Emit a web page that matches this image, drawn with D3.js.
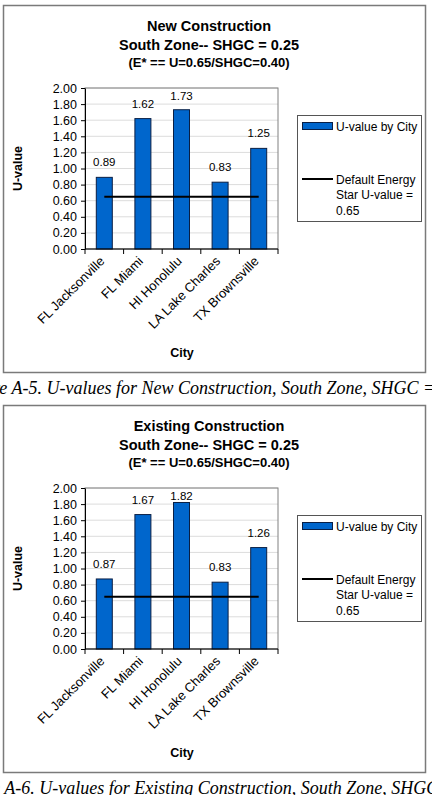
<!DOCTYPE html>
<html>
<head>
<meta charset="utf-8">
<script src="https://cdn.jsdelivr.net/npm/d3@7"></script>
<style>
  body { margin: 0; background: #fff; }
  svg { display: block; }
</style>
</head>
<body>
<svg id="chart"></svg>
<script>
// data
const cities = ["FL Jacksonville", "FL Miami", "HI Honolulu", "LA Lake Charles", "TX Brownsville"];
const newValues = [0.89, 1.62, 1.73, 0.83, 1.25];
const existingValues = [0.87, 1.67, 1.82, 0.83, 1.26];
const defaultU = 0.65;
const yTicks = [0, 0.2, 0.4, 0.6, 0.8, 1.0, 1.2, 1.4, 1.6, 1.8, 2.0];
const titlesNew = ["New Construction", "South Zone-- SHGC = 0.25", "(E* == U=0.65/SHGC=0.40)"];
const titlesExisting = ["Existing Construction", "South Zone-- SHGC = 0.25", "(E* == U=0.65/SHGC=0.40)"];
const captionNew = ["Figure ", "A-5. U-values for New Construction, South Zone, SHGC = 0.25"];
const captionExisting = ["Figure ", "A-6. U-values for Existing Construction, South Zone, SHGC = 0.25"];

const W = 432, H = 795;
const sans = "'Liberation Sans', Arial, sans-serif";
const serif = "italic 18px 'Liberation Serif', 'Times New Roman', serif";

const svg = d3.select("#chart").attr("width", W).attr("height", H);

function drawChart(top, titles, values, caption, cutChars) {
  const g = svg.append("g").attr("transform", `translate(0,${top})`);

  // outer frame
  g.append("rect")
    .attr("x", 3.5).attr("y", 5.5)
    .attr("width", 422).attr("height", 367)
    .attr("fill", "#fff").attr("stroke", "#7a7a7a").attr("stroke-width", 1.5);

  // titles
  const tsize = [14.5, 14.5, 13];
  const ty = [31, 50, 67];
  titles.forEach((t, i) => {
    g.append("text")
      .attr("x", 209).attr("y", ty[i])
      .attr("text-anchor", "middle")
      .style("font", `bold ${tsize[i]}px ${sans}`)
      .text(t);
  });

  const plot = {left: 85, right: 278, top: 88, bottom: 249};

  const x = d3.scaleBand().domain(cities).range([plot.left, plot.right]);
  const cx = c => x(c) + x.bandwidth() / 2;
  const barW = 16;

  const y = d3.scaleLinear().domain([0, 2]).range([plot.bottom, plot.top]);

  // gridlines
  g.append("g").selectAll("line")
    .data(yTicks.slice(1))
    .join("line")
    .attr("x1", plot.left).attr("x2", plot.right)
    .attr("y1", d => y(d)).attr("y2", d => y(d))
    .attr("stroke", "#dcdcdc").attr("stroke-width", 1);

  // plot border
  g.append("rect")
    .attr("x", plot.left).attr("y", plot.top)
    .attr("width", plot.right - plot.left).attr("height", plot.bottom - plot.top)
    .attr("fill", "none").attr("stroke", "#808080").attr("stroke-width", 1);

  // bars
  g.append("g").selectAll("rect")
    .data(values)
    .join("rect")
    .attr("x", (d, i) => cx(cities[i]) - barW / 2)
    .attr("y", d => y(d))
    .attr("width", barW)
    .attr("height", d => y(0) - y(d))
    .attr("fill", "#0066cc")
    .attr("stroke", "#0a1f44").attr("stroke-width", 1);

  // value labels (kept inside the plot like Excel does)
  g.append("g").selectAll("text")
    .data(values)
    .join("text")
    .attr("x", (d, i) => cx(cities[i]))
    .attr("y", d => Math.max(y(d) - 11, plot.top + 11.5))
    .attr("text-anchor", "middle")
    .style("font", `11.5px ${sans}`)
    .text(d => d.toFixed(2));

  // default energy star line
  g.append("line")
    .attr("x1", cx(cities[0]))
    .attr("x2", cx(cities[cities.length - 1]))
    .attr("y1", y(defaultU)).attr("y2", y(defaultU))
    .attr("stroke", "#000").attr("stroke-width", 2);

  // y axis
  const yAxis = d3.axisLeft(y).tickValues(yTicks).tickSize(4).tickSizeOuter(0)
    .tickFormat(d3.format(".2f"));
  const ya = g.append("g").attr("transform", `translate(${plot.left},0)`).call(yAxis);
  ya.select(".domain").attr("stroke", "#000");
  ya.selectAll(".tick line").attr("stroke", "#000");
  ya.selectAll(".tick text").attr("x", -8).style("font", `12.5px ${sans}`).attr("fill", "#000");

  // x axis: ticks between categories
  g.append("line")
    .attr("x1", plot.left).attr("x2", plot.right)
    .attr("y1", plot.bottom).attr("y2", plot.bottom)
    .attr("stroke", "#000");
  const bounds = cities.map(c => x(c)).concat([plot.right]);
  g.append("g").selectAll("line")
    .data(bounds)
    .join("line")
    .attr("x1", d => d).attr("x2", d => d)
    .attr("y1", plot.bottom).attr("y2", plot.bottom + 5)
    .attr("stroke", "#000");

  g.append("g").selectAll("text")
    .data(cities)
    .join("text")
    .attr("transform", d => `translate(${cx(d) + 1},${plot.bottom + 13}) rotate(-45)`)
    .attr("text-anchor", "end")
    .style("font", `13px ${sans}`)
    .text(d => d);

  // axis titles
  g.append("text")
    .attr("x", 182).attr("y", 357)
    .attr("text-anchor", "middle")
    .style("font", `bold 12.5px ${sans}`)
    .text("City");
  g.append("text")
    .attr("transform", `translate(22,${(plot.top + plot.bottom) / 2}) rotate(-90)`)
    .attr("text-anchor", "middle")
    .style("font", `bold 12.5px ${sans}`)
    .text("U-value");

  // legend
  const lg = g.append("g");
  lg.append("rect")
    .attr("x", 297.5).attr("y", 115.5).attr("width", 124).attr("height", 106)
    .attr("fill", "#fff").attr("stroke", "#555").attr("stroke-width", 1);
  lg.append("rect")
    .attr("x", 302.5).attr("y", 122.5).attr("width", 30).attr("height", 7)
    .attr("fill", "#0066cc").attr("stroke", "#0a1f44");
  lg.append("text")
    .attr("x", 336).attr("y", 130.5)
    .style("font", `12px ${sans}`).text("U-value by City");
  lg.append("line")
    .attr("x1", 302).attr("x2", 333).attr("y1", 179).attr("y2", 179)
    .attr("stroke", "#000").attr("stroke-width", 2);
  ["Default Energy", "Star U-value =", "0.65"].forEach((t, i) => {
    lg.append("text")
      .attr("x", 336).attr("y", 183.5 + i * 15.5)
      .style("font", `12px ${sans}`).text(t);
  });

  // caption (cut at the left edge like the page scan)
  const cap = svg.append("text")
    .attr("y", top + 394)
    .style("font", serif)
    .text(caption[0] + caption[1]);
  const probe = svg.append("text")
    .style("font", serif)
    .text(caption[0].slice(0, cutChars));
  const shift = probe.node().getComputedTextLength();
  probe.remove();
  cap.attr("x", -shift);
}

drawChart(0, titlesNew, newValues, captionNew, 5);
drawChart(400, titlesExisting, existingValues, captionExisting, 7);
</script>
</body>
</html>
